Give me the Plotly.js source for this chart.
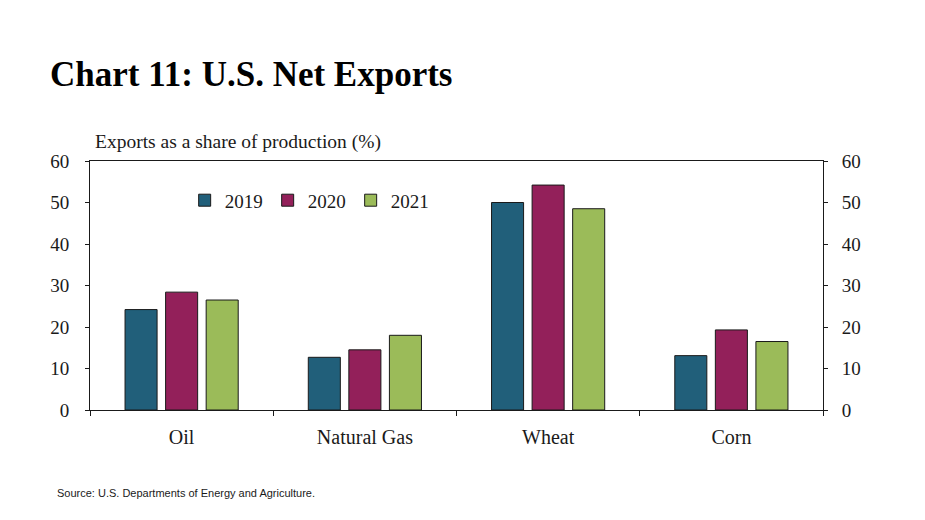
<!DOCTYPE html>
<html>
<head>
<meta charset="utf-8">
<script src="https://cdn.plot.ly/plotly-3.0.1.min.js"></script>
<style>html,body{margin:0;padding:0;background:#fff;}#chart{width:925px;height:520px;}</style>
</head>
<body>
<div id="chart"></div>
<script>
const categories = ["Oil", "Natural Gas", "Wheat", "Corn"];
const years = ["2019", "2020", "2021"];
const values2019 = [24.2, 12.7, 50.0, 13.1];
const values2020 = [28.4, 14.5, 54.2, 19.3];
const values2021 = [26.5, 18.0, 48.5, 16.5];
const yTicks = [0, 10, 20, 30, 40, 50, 60];
const colors = ["#215f7a", "#93205a", "#9bbb59"];

const series = [values2019, values2020, values2021];
const serif = "Liberation Serif";

const traces = series.map((vals, i) => ({
  type: "bar",
  name: years[i],
  x: categories,
  y: vals,
  marker: {color: colors[i], line: {color: "#1a1a1a", width: 1}},
  hoverinfo: "skip"
}));

// carrier for the right-hand axis (draws nothing)
traces.push({
  type: "scatter",
  mode: "none",
  x: categories,
  y: values2019,
  yaxis: "y2",
  showlegend: false,
  hoverinfo: "skip"
});

const layout = {
  width: 925,
  height: 520,
  margin: {l: 90, r: 102, t: 161, b: 110, pad: 0},
  paper_bgcolor: "#ffffff",
  plot_bgcolor: "#ffffff",
  font: {family: serif, color: "#1a1a1a"},
  barmode: "group",
  bargap: 0.336,
  bargroupgap: 0.21,
  showlegend: true,
  legend: {
    orientation: "h",
    x: 0.299, xanchor: "center",
    y: 0.842, yanchor: "middle",
    font: {family: serif, size: 19, color: "#1a1a1a"},
    bgcolor: "rgba(0,0,0,0)",
    traceorder: "normal",
    itemwidth: 30
  },
  title: {
    text: "<b>Chart 11: U.S. Net Exports</b>",
    font: {family: serif, size: 35, color: "#000000"},
    xref: "container", x: 50/925, xanchor: "left",
    yref: "container", y: 1 - 74/520, yanchor: "middle"
  },
  xaxis: {
    type: "category",
    tickson: "boundaries",
    ticks: "outside",
    ticklen: 5,
    tickcolor: "#1a1a1a",
    showline: true,
    linecolor: "#1a1a1a",
    linewidth: 1,
    mirror: true,
    showgrid: false,
    zeroline: false,
    tickfont: {family: serif, size: 20, color: "#1a1a1a"},
    ticklabelstandoff: 9,
    fixedrange: true
  },
  yaxis: {
    range: [0, 60],
    tickvals: yTicks,
    ticktext: yTicks.map(String),
    ticks: "outside",
    ticklen: 4,
    tickcolor: "#1a1a1a",
    showline: true,
    linecolor: "#1a1a1a",
    linewidth: 1,
    showgrid: false,
    zeroline: false,
    tickfont: {family: serif, size: 19, color: "#1a1a1a"},
    ticklabelstandoff: 12,
    fixedrange: true
  },
  yaxis2: {
    overlaying: "y",
    side: "right",
    anchor: "x",
    range: [0, 60],
    tickvals: yTicks,
    ticktext: yTicks.map(String),
    ticks: "outside",
    ticklen: 4,
    tickcolor: "#1a1a1a",
    showline: true,
    linecolor: "#1a1a1a",
    linewidth: 1,
    showgrid: false,
    zeroline: false,
    tickfont: {family: serif, size: 19, color: "#1a1a1a"},
    ticklabelstandoff: 10,
    fixedrange: true
  },
  annotations: [
    {
      text: "Exports as a share of production (%)",
      xref: "paper", yref: "paper",
      x: 3/733, xanchor: "left",
      y: (410 - 142) / 249.3, yanchor: "middle",
      showarrow: false,
      font: {family: serif, size: 19.5, color: "#1a1a1a"}
    },
    {
      text: "Source: U.S. Departments of Energy and Agriculture.",
      xref: "paper", yref: "paper",
      x: -35/733, xanchor: "left",
      y: -(493 - 410) / 249.3, yanchor: "middle",
      showarrow: false,
      font: {family: "Liberation Sans, Arial, sans-serif", size: 11, color: "#1a1a1a"}
    }
  ]
};

Plotly.newPlot("chart", traces, layout, {displayModeBar: false, staticPlot: true});
</script>
</body>
</html>
